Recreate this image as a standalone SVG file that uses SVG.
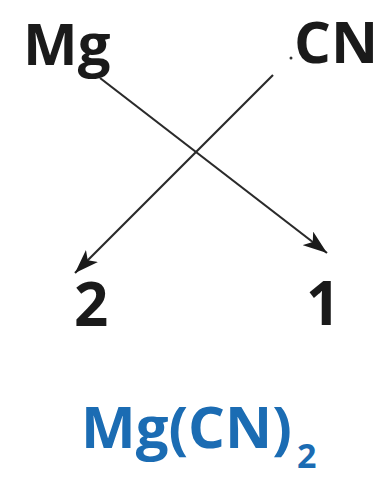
<svg xmlns="http://www.w3.org/2000/svg" width="381" height="480" viewBox="0 0 381 480">
<defs>
<style>
.t{font-family:"Open Sans","Liberation Sans",sans-serif;font-weight:bold;fill:#1a1a1a}
.b{fill:#1b6cb3}
.c{stroke:#2a2a2a;stroke-width:2.2;fill:none}
</style>
<marker id="ah" viewBox="0 0 24 17" refX="24" refY="8.5" markerWidth="24" markerHeight="17" markerUnits="userSpaceOnUse" orient="auto">
<path d="M0,0 L24,8.5 L0,17 L6,8.5 Z" fill="#1a1a1a"/>
</marker>
</defs>
<rect width="381" height="480" fill="#fff"/>
<g id="mg"><text class="t" x="23" y="65" font-size="58">Mg</text></g>
<g id="cn"><circle cx="291" cy="58" r="1.5" fill="#333"/><text class="t" x="294" y="63" font-size="58">CN</text></g>
<g id="n2"><text class="t" x="74" y="326" font-size="60">2</text></g>
<g id="n1"><text class="t" x="306" y="325" font-size="60">1</text></g>
<g id="formula"><text class="t b" x="81" y="448" font-size="58">Mg(CN)<tspan font-size="34" dx="5" dy="20">2</tspan></text></g>
<g id="connectors">
<line class="c" x1="100" y1="78" x2="327" y2="253" marker-end="url(#ah)"/>
<line class="c" x1="273" y1="75" x2="75" y2="273" marker-end="url(#ah)"/>
</g>
</svg>
